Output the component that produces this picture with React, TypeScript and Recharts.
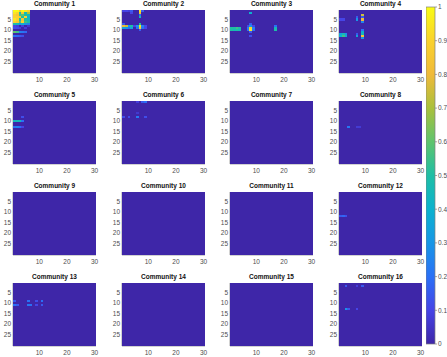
import React from "react"
import {
  Bar,
  BarChart,
  Scatter,
  ScatterChart,
  XAxis,
  YAxis,
} from "recharts"

// [row, col, value] — only the non-zero cells of each 30x30 matrix
type Cell = [number, number, number]

const SIZE = 30

const community1: Cell[] = [
  [1, 1, 1], [1, 2, 1], [1, 3, 0.85], [1, 4, 1], [1, 5, 0.95], [1, 6, 0.9],
  [2, 1, 0.95], [2, 2, 0.9], [2, 3, 0.5], [2, 4, 0.85], [2, 5, 0.45], [2, 6, 0.7],
  [3, 1, 0.9], [3, 2, 0.85], [3, 3, 0.55], [3, 4, 0.6], [3, 5, 0.5], [3, 6, 0.45],
  [4, 1, 0.9], [4, 2, 0.9], [4, 3, 0.85], [4, 4, 0.5], [4, 5, 0.9], [4, 6, 0.4],
  [5, 1, 0.95], [5, 2, 0.9], [5, 3, 0.5], [5, 4, 0.85], [5, 5, 0.5], [5, 6, 0.45],
  [6, 1, 0.9], [6, 2, 0.85], [6, 3, 0.6], [6, 4, 0.9], [6, 5, 0.55], [6, 6, 0.5],
  [7, 1, 0.5], [7, 2, 0.45], [7, 3, 0.3], [7, 4, 0.4], [7, 5, 0.3], [7, 6, 0.25],
  [8, 1, 0.1], [8, 2, 0.08], [8, 4, 0.08], [8, 6, 0.06],
  [9, 1, 0.12], [9, 2, 0.1], [9, 3, 0.08], [9, 5, 0.08],
  [11, 1, 0.6], [11, 2, 0.55], [11, 3, 0.25], [11, 4, 0.22], [11, 5, 0.18],
  [13, 1, 0.2], [13, 2, 0.18], [13, 3, 0.15], [13, 4, 0.12],
]
const community2: Cell[] = [
  [1, 1, 0.1], [1, 2, 0.1], [1, 3, 0.08], [1, 4, 0.15], [1, 7, 0.95], [1, 8, 0.15],
  [2, 4, 0.1], [2, 7, 0.85],
  [3, 7, 0.2],
  [4, 7, 0.45],
  [7, 1, 0.15], [7, 7, 0.5],
  [8, 1, 0.8], [8, 2, 0.75], [8, 3, 0.3], [8, 4, 0.5], [8, 5, 0.1], [8, 6, 0.3],
  [8, 7, 0.95], [8, 8, 0.25], [8, 9, 0.1],
  [9, 1, 0.35], [9, 2, 0.3], [9, 3, 0.2], [9, 4, 0.35], [9, 6, 0.2], [9, 7, 0.9],
  [9, 8, 0.2], [9, 9, 0.1],
  [10, 7, 0.15],
]
const community3: Cell[] = [
  [2, 8, 0.4],
  [7, 8, 0.15],
  [8, 7, 0.1], [8, 8, 0.3], [8, 9, 0.1], [8, 17, 0.2],
  [9, 1, 0.5], [9, 2, 0.5], [9, 3, 0.55], [9, 4, 0.5], [9, 7, 0.25], [9, 8, 0.9],
  [9, 9, 0.25], [9, 17, 0.45],
  [10, 1, 0.5], [10, 2, 0.45], [10, 3, 0.5], [10, 4, 0.45], [10, 7, 0.2], [10, 8, 0.95],
  [10, 9, 0.2], [10, 17, 0.5],
  [11, 8, 0.15],
  [13, 8, 0.12],
]
const community4: Cell[] = [
  [3, 9, 0.75],
  [4, 7, 0.15], [4, 9, 0.15],
  [5, 1, 0.1], [5, 2, 0.1], [5, 7, 0.3], [5, 9, 0.8],
  [6, 9, 0.25],
  [10, 9, 0.2],
  [11, 9, 0.4],
  [12, 1, 0.35], [12, 2, 0.45], [12, 3, 0.3], [12, 7, 0.15], [12, 9, 0.45],
  [13, 1, 0.4], [13, 2, 0.55], [13, 3, 0.35], [13, 7, 0.35], [13, 9, 0.85],
  [14, 9, 0.3],
]
const community5: Cell[] = [
  [8, 4, 0.12],
  [10, 1, 0.45], [10, 2, 0.45], [10, 3, 0.45], [10, 4, 0.2],
  [13, 1, 0.22], [13, 2, 0.25], [13, 3, 0.2], [13, 4, 0.1],
]
const community6: Cell[] = [
  [1, 6, 0.08], [1, 8, 0.15], [1, 9, 0.2],
  [6, 6, 0.06],
  [8, 1, 0.12], [8, 3, 0.12], [8, 6, 0.22], [8, 9, 0.12],
]
const community7: Cell[] = []
const community8: Cell[] = [
  [13, 4, 0.22], [13, 7, 0.07], [13, 8, 0.07],
]
const community9: Cell[] = []
const community10: Cell[] = []
const community11: Cell[] = []
const community12: Cell[] = [
  [12, 1, 0.15], [12, 2, 0.18], [12, 3, 0.12],
]
const community13: Cell[] = [
  [9, 1, 0.15], [9, 6, 0.2], [9, 9, 0.12], [9, 11, 0.2],
  [11, 1, 0.2], [11, 2, 0.15], [11, 6, 0.22], [11, 7, 0.2], [11, 9, 0.1], [11, 11, 0.15],
]
const community14: Cell[] = []
const community15: Cell[] = []
const community16: Cell[] = [
  [2, 3, 0.15], [2, 7, 0.08], [2, 9, 0.15],
  [13, 3, 0.3], [13, 4, 0.15], [13, 7, 0.1],
]

const titles = Array.from({ length: 16 }, (_, i) => `Community ${i + 1}`)
const matrices = [
  community1, community2, community3, community4,
  community5, community6, community7, community8,
  community9, community10, community11, community12,
  community13, community14, community15, community16,
]

const xTicks = [10, 20, 30]
const yTicks = [5, 10, 15, 20, 25]
const colorbarTicks = [0, 0.1, 0.2, 0.3, 0.4, 0.5, 0.6, 0.7, 0.8, 0.9, 1]
const colorbarRange = [{ name: "cb", v: 1 }]

// parula, approximately
const PARULA: [number, number, number][] = [
  [62, 38, 168],
  [70, 68, 230],
  [42, 112, 246],
  [24, 150, 230],
  [12, 178, 206],
  [30, 190, 165],
  [95, 196, 110],
  [170, 192, 60],
  [240, 186, 58],
  [250, 210, 45],
  [249, 251, 21],
]

function parula(v: number) {
  const t = Math.max(0, Math.min(1, v)) * (PARULA.length - 1)
  const i = Math.min(PARULA.length - 2, Math.floor(t))
  const f = t - i
  const a = PARULA[i]
  const b = PARULA[i + 1]
  const c = a.map((x, k) => Math.round(x + (b[k] - x) * f))
  return `rgb(${c[0]},${c[1]},${c[2]})`
}

function toGrid(cells: Cell[]) {
  const lookup = new Map<string, number>()
  cells.forEach(([r, c, v]) => lookup.set(`${r}-${c}`, v))
  const out: { x: number; y: number; v: number }[] = []
  for (let r = 1; r <= SIZE; r++) {
    for (let c = 1; c <= SIZE; c++) {
      out.push({ x: c, y: r, v: lookup.get(`${r}-${c}`) ?? 0 })
    }
  }
  return out
}

const PLOT_W = 83
const PLOT_H = 63
const Y_AXIS_W = 16
const X_AXIS_H = 12
const RIGHT_PAD = 8
const COL_LEFT = [13, 122, 230, 339]
const ROW_TOP = [10, 101, 192, 283]
const AXIS = "#808080"
const TICK = { fill: "#4d4d4d", fontSize: 6.5 }

const cw = PLOT_W / SIZE
const ch = PLOT_H / SIZE

function Heatmap({ cells, title }: { cells: Cell[]; title: string }) {
  const data = toGrid(cells)
  const w = Y_AXIS_W + PLOT_W + RIGHT_PAD
  const h = 1 + PLOT_H + X_AXIS_H
  return (
    <div style={{ position: "relative", width: w, height: h }}>
      <div
        style={{
          position: "absolute",
          left: Y_AXIS_W,
          width: PLOT_W,
          top: -9,
          textAlign: "center",
          fontSize: 6.5,
          fontWeight: "bold",
          lineHeight: "8px",
          color: "#111",
          whiteSpace: "nowrap",
        }}
      >
        {title}
      </div>
      <ScatterChart width={w} height={h} margin={{ top: 1, right: RIGHT_PAD, bottom: 0, left: 0 }}>
        <XAxis
          type="number"
          dataKey="x"
          domain={[0.5, 30.5]}
          ticks={xTicks}
          interval={0}
          allowDataOverflow
          height={X_AXIS_H}
          tick={TICK}
          tickSize={3}
          tickMargin={1}
          tickLine={false}
          axisLine={{ stroke: AXIS, strokeWidth: 0.7 }}
        />
        <XAxis xAxisId="top" orientation="top" type="number" domain={[0.5, 30.5]} height={0} tick={false} tickLine={false} axisLine={{ stroke: AXIS, strokeWidth: 0.7 }} />
        <YAxis
          type="number"
          dataKey="y"
          domain={[0.5, 30.5]}
          reversed
          ticks={yTicks}
          interval={0}
          allowDataOverflow
          width={Y_AXIS_W}
          tick={TICK}
          tickSize={2}
          tickMargin={0}
          tickLine={false}
          axisLine={{ stroke: AXIS, strokeWidth: 0.7 }}
        />
        <YAxis yAxisId="right" orientation="right" type="number" domain={[0.5, 30.5]} width={0} tick={false} tickLine={false} axisLine={{ stroke: AXIS, strokeWidth: 0.7 }} />
        <Scatter
          data={data}
          isAnimationActive={false}
          shape={(p: any) => (
            <rect
              x={p.cx - cw / 2}
              y={p.cy - ch / 2}
              width={cw + 0.6}
              height={ch + 0.6}
              fill={parula(p.payload.v)}
              shapeRendering="crispEdges"
            />
          )}
        />
      </ScatterChart>
    </div>
  )
}

function Colorbar() {
  return (
    <BarChart
      width={9 + 20}
      height={337 + 10}
      data={colorbarRange}
      margin={{ top: 5, right: 0, bottom: 5, left: 0 }}
      barCategoryGap={0}
    >
      <defs>
        <linearGradient id="parulaGrad" x1="0" y1="1" x2="0" y2="0">
          {PARULA.map((_, i) => (
            <stop key={i} offset={i / (PARULA.length - 1)} stopColor={parula(i / (PARULA.length - 1))} />
          ))}
        </linearGradient>
      </defs>
      <XAxis dataKey="name" hide />
      <YAxis
        orientation="right"
        type="number"
        domain={[0, 1]}
        ticks={colorbarTicks}
        interval={0}
        width={20}
        tick={TICK}
        tickSize={2}
        tickMargin={1}
        tickLine={{ stroke: AXIS, strokeWidth: 0.7 }}
        axisLine={false}
      />
      <Bar dataKey="v" fill="url(#parulaGrad)" stroke={AXIS} strokeWidth={0.7} isAnimationActive={false} />
    </BarChart>
  )
}

export default function App() {
  return (
    <div
      style={{
        position: "absolute",
        left: 0,
        top: 0,
        width: 447,
        height: 357,
        background: "#fff",
        fontFamily: "'Liberation Sans', Arial, sans-serif",
      }}
    >
      {matrices.map((cells, i) => (
        <div
          key={i}
          style={{
            position: "absolute",
            left: COL_LEFT[i % 4] - Y_AXIS_W,
            top: ROW_TOP[Math.floor(i / 4)] - 1,
          }}
        >
          <Heatmap cells={cells} title={titles[i]} />
        </div>
      ))}
      <div style={{ position: "absolute", left: 426, top: 2 }}>
        <Colorbar />
      </div>
    </div>
  )
}
